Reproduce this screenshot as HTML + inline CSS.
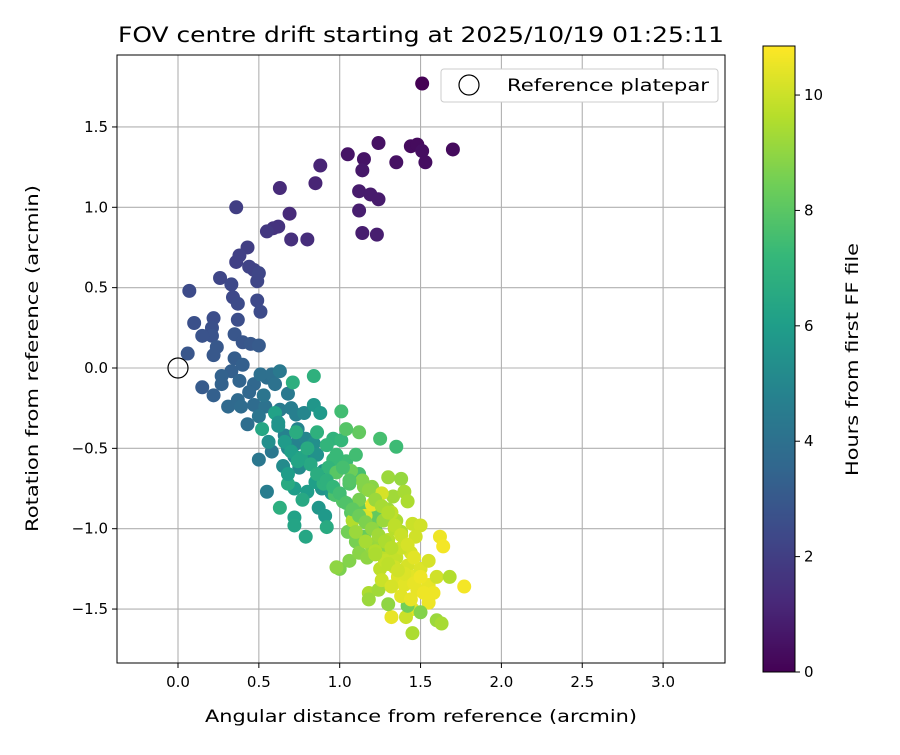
<!DOCTYPE html>
<html><head><meta charset="utf-8"><style>
body{margin:0;background:#fff}
svg text{font-family:"DejaVu Sans","Liberation Sans",sans-serif;fill:#000}
</style></head><body>
<svg id="c" width="900" height="750" xmlns="http://www.w3.org/2000/svg"></svg>
<script>
const xs=[1.51,1.44,1.48,1.51,1.53,1.70,1.35,1.24,1.05,1.15,1.14,1.12,1.19,1.24,1.12,1.14,1.23,0.88,0.85,0.63,0.69,0.80,0.70,0.62,0.59,0.55,
0.36,0.43,0.38,0.36,0.44,0.47,0.50,0.26,0.49,0.33,0.34,0.49,0.51,0.37,0.07,0.37,0.22,0.10,0.21,0.21,0.15,0.35,0.40,0.45,0.50,0.24,0.06,0.22,0.35,0.40,0.33,0.27,0.15,0.22,0.27,0.38,0.47,0.44,0.31,0.37,0.39,0.47,0.43,0.55,0.51,0.58,0.60,0.54,0.53,0.50,0.50,0.58,0.63,0.68,0.63,0.70,0.73,0.55,0.66,0.73,0.74,0.78,0.79,0.72,0.68,0.65,0.75,0.80,0.84,0.86,0.90,0.89,0.87,0.91,0.95,0.84,0.88,0.72,0.80,0.85,0.72,0.72,0.79,0.92,0.71,0.84,0.73,0.96,1.01,1.01,0.96,0.93,1.04,1.10,1.12,1.06,0.97,1.02,1.07,1.13,1.18,1.25,1.35,1.23,1.22,1.15,1.05,1.10,1.00,0.98,1.06,1.12,1.17,1.20,1.24,1.27,1.30,1.33,1.30,1.38,1.40,1.42,1.35,1.38,1.30,1.28,1.25,1.35,1.40,1.45,1.50,1.47,1.44,1.42,1.36,1.40,1.45,1.50,1.55,1.48,1.55,1.58,1.62,1.64,1.60,1.68,1.77,1.55,1.45,1.41,1.32,1.45,1.60,1.63,1.18,1.18,1.30,1.24,1.42,1.50,1.12,1.12,1.20,1.04,0.98,1.07,1.15,0.52,0.60,0.68,0.63,0.77,0.90,1.08,1.16,1.28,1.34,1.20,1.26,1.32,1.38,
0.62,0.66,0.70,0.76,0.82,0.86,0.92,0.96,1.00,1.04,1.08,1.12,1.16,1.20,1.24,1.28,1.32,1.14,1.18,1.22,1.26,1.30,1.34,1.38,1.42,1.46,1.10,1.16,1.22,1.28,1.34,1.40,1.46,1.52,1.26,1.32,1.38,1.44,1.50,1.22,1.30,1.36,0.56,0.62,0.68,0.74,0.80,0.86,0.92,0.98,1.02,1.06];
const ys=[1.77,1.38,1.39,1.35,1.28,1.36,1.28,1.40,1.33,1.30,1.23,1.10,1.08,1.05,0.98,0.84,0.83,1.26,1.15,1.12,0.96,0.80,0.80,0.88,0.87,0.85,
1.00,0.75,0.70,0.66,0.63,0.61,0.59,0.56,0.54,0.52,0.44,0.42,0.35,0.40,0.48,0.30,0.31,0.28,0.25,0.20,0.20,0.21,0.16,0.15,0.14,0.13,0.09,0.08,0.06,0.02,-0.02,-0.05,-0.12,-0.17,-0.10,-0.08,-0.10,-0.15,-0.24,-0.20,-0.24,-0.23,-0.35,-0.06,-0.04,-0.04,-0.10,-0.24,-0.17,-0.30,-0.57,-0.52,-0.02,-0.16,-0.26,-0.25,-0.29,-0.77,-0.42,-0.47,-0.38,-0.28,-0.44,-0.55,-0.50,-0.61,-0.62,-0.58,-0.47,-0.54,-0.64,-0.75,-0.87,-0.92,-0.78,-0.23,-0.28,-0.75,-0.77,-0.71,-0.93,-0.98,-1.05,-0.99,-0.09,-0.05,-0.40,-0.44,-0.45,-0.27,-0.57,-0.62,-0.58,-0.54,-0.66,-0.72,-0.79,-0.83,-0.90,-0.88,-0.96,-0.44,-0.49,-0.92,-1.00,-1.05,-1.02,-1.08,-1.25,-1.24,-1.20,-1.15,-1.18,-1.12,-1.06,-0.95,-0.88,-0.80,-0.68,-0.69,-0.77,-0.83,-0.95,-1.02,-1.07,-1.15,-1.25,-1.18,-1.10,-0.97,-0.98,-1.05,-1.15,-1.23,-1.30,-1.35,-1.30,-1.25,-1.20,-1.38,-1.35,-1.40,-1.05,-1.11,-1.30,-1.30,-1.36,-1.46,-1.50,-1.55,-1.55,-1.65,-1.57,-1.59,-1.40,-1.44,-1.47,-1.38,-1.48,-1.52,-0.40,-0.82,-0.74,-0.38,-0.65,-0.64,-0.74,-0.38,-0.28,-0.72,-0.87,-0.82,-0.72,-0.95,-0.92,-1.10,-1.00,-0.85,-0.78,-0.90,-1.12,
-0.34,-0.46,-0.52,-0.56,-0.60,-0.66,-0.70,-0.74,-0.78,-0.84,-0.88,-0.92,-0.96,-1.00,-1.04,-1.08,-1.12,-0.70,-0.76,-0.82,-0.86,-0.90,-0.98,-1.04,-1.10,-1.18,-1.02,-1.08,-1.14,-1.20,-1.24,-1.28,-1.34,-1.40,-1.32,-1.36,-1.42,-1.44,-1.30,-1.16,-1.22,-1.26,-0.46,-0.36,-0.66,-0.58,-0.50,-0.40,-0.48,-0.54,-0.62,-0.70];
const hours=[0,0.3,0.3,0.4,0.4,0.3,0.5,0.5,0.6,0.6,0.7,0.8,0.8,0.8,0.9,0.9,0.9,1.1,1.1,1.3,1.3,1.4,1.5,1.6,1.6,1.8,
2.0,2.0,2.1,2.1,2.2,2.2,2.3,2.3,2.3,2.4,2.4,2.4,2.5,2.5,2.5,2.6,2.6,2.7,2.7,2.8,2.8,2.9,2.9,3.0,3.1,3.0,2.9,3.0,3.2,3.3,3.3,3.4,3.1,3.3,3.4,3.5,3.6,3.6,3.7,3.7,3.8,3.8,3.9,3.9,4.0,4.0,4.1,4.1,4.2,4.2,4.3,4.3,4.4,4.4,4.5,4.6,4.7,4.6,4.8,4.8,4.9,5.0,5.0,5.1,5.1,5.2,5.2,5.3,5.4,5.5,5.5,5.6,5.7,5.8,5.9,5.7,5.8,6.0,6.0,6.1,6.2,6.3,6.4,6.6,6.8,6.9,6.7,7.0,7.2,7.5,7.3,7.1,7.4,7.5,7.6,7.8,7.7,7.9,8.0,8.1,8.3,7.6,7.4,8.2,8.4,8.3,8.5,8.6,8.7,9.0,8.8,8.9,9.0,9.1,9.2,9.2,9.3,9.3,9.2,9.1,9.4,9.5,9.5,9.6,9.7,9.8,9.8,9.9,9.9,10.0,10.1,10.1,10.2,10.2,10.3,10.4,10.4,10.3,10.2,10.5,10.5,10.6,10.6,10.7,10.1,9.6,10.7,10.6,10.4,10.0,10.5,9.5,9.2,9.4,9.5,9.2,9.0,9.3,8.5,8.8,8.2,8.6,8.9,7.9,8.0,8.4,8.8,6.4,6.2,6.6,6.8,6.5,6.9,9.6,10.3,9.0,9.7,10.5,10.2,9.8,10.0,
5.6,5.9,6.1,6.3,6.5,6.7,6.9,7.2,7.5,7.8,8.1,8.4,8.7,9.0,9.3,9.5,9.7,8.8,9.0,9.2,9.4,9.6,9.8,10.0,10.2,10.4,9.2,9.4,9.6,9.9,10.1,10.3,10.5,10.6,10.0,10.2,10.4,10.5,10.6,9.5,9.8,10.1,5.4,5.6,6.0,6.3,6.6,6.9,7.1,7.3,7.6,7.9];
const xTicks=[0.0,0.5,1.0,1.5,2.0,2.5,3.0];
const yTicks=[-1.5,-1.0,-0.5,0.0,0.5,1.0,1.5];
const cTicks=[0,2,4,6,8,10];
const L=117,R=725,T=55,B=663;
const X=v=>178+v*161.7, Y=v=>368-v*160.7;
const cmax=10.85, CT=46, CB=672, C=v=>CB-(v/cmax)*(CB-CT);
const vir=[[68,1,84],[72,40,120],[62,73,137],[49,104,142],[38,130,142],[31,158,137],[53,183,121],[110,206,88],[181,222,43],[253,231,37]];
function col(t){let f=Math.max(0,Math.min(1,t/cmax))*(vir.length-1);let i=Math.min(vir.length-2,Math.floor(f)),u=f-i;
return 'rgb('+vir[i].map((a,k)=>Math.round(a+(vir[i+1][k]-a)*u)).join(',')+')';}
const svg=document.getElementById('c');const NS='http://www.w3.org/2000/svg';
function el(tag,at,txt){const e=document.createElementNS(NS,tag);for(const k in at)e.setAttribute(k,at[k]);if(txt!=null)e.textContent=txt;svg.appendChild(e);return e;}
xTicks.forEach(v=>{const g=el('line',{x1:X(v),x2:X(v),y1:T,y2:B,stroke:'#b0b0b0','stroke-width':1.1});

});
yTicks.forEach(v=>{const g=el('line',{x1:L,x2:R,y1:Y(v),y2:Y(v),stroke:'#b0b0b0','stroke-width':1.1});

});
for(let i=0;i<xs.length;i++){const p=el('circle',{cx:X(xs[i]),cy:Y(ys[i]),r:7,fill:col(hours[i])});

}
const rp=el('circle',{cx:X(0),cy:Y(0),r:10,fill:'none',stroke:'#000','stroke-width':1.2});


const fr=el('rect',{x:L,y:T,width:R-L,height:B-T,fill:'none',stroke:'#000','stroke-width':1});


xTicks.forEach(v=>{el('line',{x1:X(v),x2:X(v),y1:B,y2:B+5,stroke:'#000'});
const t=el('text',{x:X(v),y:B+24,'text-anchor':'middle','font-size':15},v.toFixed(1));

});
yTicks.forEach(v=>{el('line',{x1:L-5,x2:L,y1:Y(v),y2:Y(v),stroke:'#000'});
const t=el('text',{x:L-9,y:Y(v)+5,'text-anchor':'end','font-size':15},(v<0?'\u2212'+(-v).toFixed(1):v.toFixed(1)));

});
let t=el('text',{x:205,y:722,'font-size':17,textLength:432,lengthAdjust:'spacingAndGlyphs'},'Angular distance from reference (arcmin)');


t=el('text',{x:0,y:0,'font-size':17,textLength:347,lengthAdjust:'spacingAndGlyphs',transform:'translate(38,532) rotate(-90)'},'Rotation from reference (arcmin)');


t=el('text',{x:118,y:42,'font-size':21,textLength:606,lengthAdjust:'spacingAndGlyphs'},'FOV centre drift starting at 2025/10/19 01:25:11');


const lg=el('rect',{x:441,y:69,width:277,height:33,rx:3,fill:'#fff',stroke:'#ccc'});


el('circle',{cx:469,cy:85,r:10,fill:'none',stroke:'#000','stroke-width':1.2});
t=el('text',{x:507,y:91,'font-size':17,textLength:202,lengthAdjust:'spacingAndGlyphs'},'Reference platepar');


for(let y=CT;y<CB;y+=2){el('rect',{x:763,y:y,width:32,height:2.5,fill:col((CB-y)/(CB-CT)*cmax)});}
const cb=el('rect',{x:763,y:CT,width:32,height:CB-CT,fill:'none',stroke:'#000'});


cTicks.forEach(v=>{el('line',{x1:795,x2:800,y1:C(v),y2:C(v),stroke:'#000'});
const tt=el('text',{x:804,y:C(v)+5,'font-size':15},String(v));

});
t=el('text',{x:0,y:0,'font-size':17,textLength:233,lengthAdjust:'spacingAndGlyphs',transform:'translate(858,476) rotate(-90)'},'Hours from first FF file');


</script>
</body></html>
